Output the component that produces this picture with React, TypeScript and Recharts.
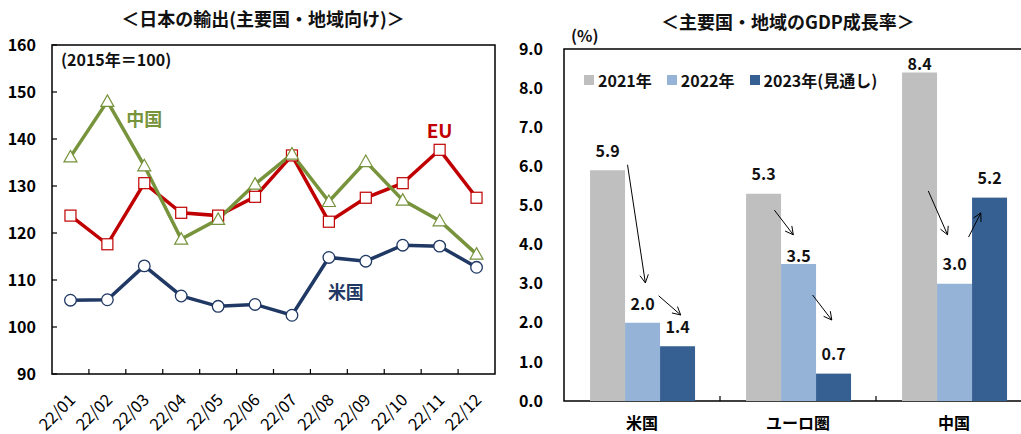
import React from "react";
import {
  Bar,
  BarChart,
  ComposedChart,
  LabelList,
  Legend,
  Line,
  ReferenceArea,
  XAxis,
  YAxis,
} from "recharts";

// Left panel: Japan's exports by destination (2015 = 100)
const months = ["22/01", "22/02", "22/03", "22/04", "22/05", "22/06", "22/07", "22/08", "22/09", "22/10", "22/11", "22/12"];
const euExports = [123.7, 117.6, 130.6, 124.3, 123.7, 127.7, 136.5, 122.4, 127.5, 130.6, 137.7, 127.5];
const chinaExports = [136.2, 148.0, 134.3, 118.7, 122.9, 130.4, 136.8, 126.7, 135.2, 127.0, 122.6, 115.5];
const usExports = [105.7, 105.8, 113.0, 106.6, 104.4, 104.8, 102.5, 114.8, 114.0, 117.4, 117.2, 112.7];
const exportTicks = [90, 100, 110, 120, 130, 140, 150, 160];

// Right panel: GDP growth of major economies
const regions = ["米国", "ユーロ圏", "中国"];
const gdp2021 = [5.9, 5.3, 8.4];
const gdp2022 = [2.0, 3.5, 3.0];
const gdp2023 = [1.4, 0.7, 5.2];
const growthTicks = [0, 1, 2, 3, 4, 5, 6, 7, 8, 9];

const FONT = '"Noto Sans CJK JP", "Noto Sans", sans-serif';
const EU = "#C00000";
const CN = "#77933C";
const US = "#1F3864";

const gdpSeries = [
  { key: "y2021", name: "2021年", color: "#BFBFBF" },
  { key: "y2022", name: "2022年", color: "#95B3D7" },
  { key: "y2023", name: "2023年(見通し)", color: "#376092" },
];

// arrows drawn between bars; x in bar widths from the 2021 bar's left edge, v in %
const arrowNotes = [
  { region: "米国", x1: 1.07, v1: 6.04, x2: 1.58, v2: 3.02 },
  { region: "米国", x1: 1.96, v1: 2.69, x2: 2.59, v2: 2.2 },
  { region: "ユーロ圏", x1: 0.81, v1: 4.88, x2: 1.35, v2: 4.25 },
  { region: "ユーロ圏", x1: 1.9, v1: 2.71, x2: 2.45, v2: 2.07 },
  { region: "中国", x1: 0.75, v1: 5.37, x2: 1.3, v2: 4.25 },
  { region: "中国", x1: 1.9, v1: 4.19, x2: 2.25, v2: 4.81 },
];

// how far above the bar top each value label sits
const labelLift: Record<string, number[]> = {
  y2021: [20, 21, 9],
  y2022: [20, 9, 21],
  y2023: [20, 21, 21],
};

const L_W = 510;
const L_H = 434;
const L_MARGIN = { top: 45, right: 15, bottom: 0, left: 0 };
const L_YAXIS = 52;
const L_BAND = (L_W - L_YAXIS - L_MARGIN.right - L_MARGIN.left) / months.length;

const R_W = 527;
const R_H = 434;
const R_MARGIN = { top: 49, right: 5, bottom: 0, left: 0 };
const R_YAXIS = 54;
const R_BAND = (R_W - R_YAXIS - R_MARGIN.right) / regions.length;

const exportRows = months.map((m, i) => ({
  m,
  eu: euExports[i],
  cn: chinaExports[i],
  us: usExports[i],
}));

const gdpRows = regions.map((r, i) => ({
  region: r,
  y2021: gdp2021[i],
  y2022: gdp2022[i],
  y2023: gdp2023[i],
}));

function SquareDot(p: any) {
  const { cx, cy, index } = p;
  if (cx == null || cy == null) return <g key={index} />;
  return <rect key={index} x={cx - 5.5} y={cy - 5.5} width={11} height={11} fill="#fff" stroke={EU} strokeWidth={1.2} />;
}

function TriangleDot(p: any) {
  const { cx, cy, index } = p;
  if (cx == null || cy == null) return <g key={index} />;
  const pts = `${cx},${cy - 6.5} ${cx + 6.5},${cy + 5} ${cx - 6.5},${cy + 5}`;
  return <polygon key={index} points={pts} fill="#fff" stroke={CN} strokeWidth={1.2} />;
}

function CircleDot(p: any) {
  const { cx, cy, index } = p;
  if (cx == null || cy == null) return <g key={index} />;
  return <circle key={index} cx={cx} cy={cy} r={5.8} fill="#fff" stroke={US} strokeWidth={1.3} />;
}

// series name written next to one point of each line
function seriesTag(text: string, at: number, dx: number, dy: number, color: string, size: number) {
  return (p: any) => {
    if (p.index !== at) return <g key={p.index} />;
    return (
      <text
        key={p.index}
        x={p.x + dx}
        y={p.y + dy}
        textAnchor="middle"
        dominantBaseline="central"
        fill={color}
        fontSize={size}
        fontWeight={700}
        fontFamily={FONT}
      >
        {text}
      </text>
    );
  };
}

function MonthTick(p: any) {
  const { x, y, payload, index } = p;
  return (
    <g>
      {index < months.length - 1 && (
        <line x1={x + L_BAND / 2} x2={x + L_BAND / 2} y1={y} y2={y - 5} stroke="#000" strokeWidth={1.2} />
      )}
      <text
        transform={`translate(${x + 6},${y + 27}) rotate(-45)`}
        textAnchor="end"
        fontSize={16.5}
        fill="#000"
        fontFamily={FONT}
      >
        {payload.value}
      </text>
    </g>
  );
}

function RegionTick(p: any) {
  const { x, y, payload, index } = p;
  return (
    <g>
      {index < regions.length - 1 && (
        <line x1={x + R_BAND / 2} x2={x + R_BAND / 2} y1={y} y2={y - 5} stroke="#000" strokeWidth={1.2} />
      )}
      <text
        x={x}
        y={y + 21}
        textAnchor="middle"
        dominantBaseline="central"
        fontSize={16}
        fontWeight={700}
        fill="#000"
        fontFamily={FONT}
      >
        {payload.value}
      </text>
    </g>
  );
}

function valueLabel(key: string) {
  return (p: any) => {
    const vb = p.viewBox && p.viewBox.width != null ? p.viewBox : p;
    const { x, y, width } = vb;
    const lift = labelLift[key][p.index] ?? 20;
    return (
      <text
        key={p.index}
        x={x + width / 2}
        y={y - lift}
        textAnchor="middle"
        dominantBaseline="central"
        fontSize={16}
        fontWeight={700}
        fill="#111"
        fontFamily={FONT}
      >
        {Number(p.value).toFixed(1)}
      </text>
    );
  };
}

function arrowPath(x1: number, y1: number, x2: number, y2: number) {
  const t = Math.atan2(y2 - y1, x2 - x1);
  const a = (28 * Math.PI) / 180;
  const len = 9;
  const ax = x2 - len * Math.cos(t - a);
  const ay = y2 - len * Math.sin(t - a);
  const bx = x2 - len * Math.cos(t + a);
  const by = y2 - len * Math.sin(t + a);
  return `M${x1},${y1} L${x2},${y2} M${ax},${ay} L${x2},${y2} L${bx},${by}`;
}

// 2023 bar plus the trend arrows of its region group
function OutlookBar(p: any) {
  const { x, y, width, height, fill, payload } = p;
  const v = payload.y2023;
  const ppu = height / v;
  const base = y + height;
  const left0 = x - 2 * width;
  const notes = arrowNotes.filter((a) => a.region === payload.region);
  return (
    <g>
      <rect x={x} y={y} width={width} height={height} fill={fill} />
      {notes.map((a, i) => (
        <path
          key={i}
          d={arrowPath(left0 + a.x1 * width, base - a.v1 * ppu, left0 + a.x2 * width, base - a.v2 * ppu)}
          fill="none"
          stroke="#000"
          strokeWidth={1}
        />
      ))}
    </g>
  );
}

function GdpLegend() {
  return (
    <div style={{ display: "flex", alignItems: "center", fontFamily: FONT, fontSize: 16, fontWeight: 700, color: "#111", whiteSpace: "nowrap" }}>
      {gdpSeries.map((s, i) => (
        <div key={s.key} style={{ display: "flex", alignItems: "center", marginRight: i < gdpSeries.length - 1 ? 15 : 0 }}>
          <span style={{ display: "inline-block", width: 10, height: 10, background: s.color, marginRight: 4 }} />
          <span>{s.name}</span>
        </div>
      ))}
    </div>
  );
}

export default function App() {
  const yTick = { fill: "#000", fontSize: 16, fontWeight: 700, fontFamily: FONT };
  return (
    <div
      style={{
        position: "absolute",
        left: 0,
        top: 0,
        width: 1021,
        height: 434,
        overflow: "hidden",
        background: "#fff",
        fontFamily: FONT,
      }}
    >
      {/* left panel */}
      <div style={{ position: "absolute", left: 0, top: 0, width: L_W, height: L_H }}>
        <ComposedChart width={L_W} height={L_H} data={exportRows} margin={L_MARGIN}>
          <XAxis
            dataKey="m"
            scale="band"
            interval={0}
            height={60}
            axisLine={false}
            tickLine={false}
            tickSize={0}
            tickMargin={0}
            tick={<MonthTick />}
          />
          <YAxis
            domain={[90, 160]}
            ticks={exportTicks}
            width={L_YAXIS}
            axisLine={false}
            tickSize={-5}
            tickMargin={21}
            tickLine={{ stroke: "#000", strokeWidth: 1.2 }}
            tick={yTick}
          />
          <ReferenceArea y1={90} y2={160} fill="none" stroke="#000" strokeWidth={1.5} ifOverflow="visible" />
          <Line
            dataKey="us"
            stroke={US}
            strokeWidth={3.5}
            dot={CircleDot}
            label={seriesTag("米国", 7, 17, 34, US, 18)}
            isAnimationActive={false}
          />
          <Line
            dataKey="eu"
            stroke={EU}
            strokeWidth={3.5}
            dot={SquareDot}
            label={seriesTag("EU", 10, 0, -20, EU, 19)}
            isAnimationActive={false}
          />
          <Line
            dataKey="cn"
            stroke={CN}
            strokeWidth={3.5}
            dot={TriangleDot}
            label={seriesTag("中国", 2, 0, -48, CN, 18)}
            isAnimationActive={false}
          />
        </ComposedChart>
        <div style={{ position: "absolute", left: 63, width: 400, top: 8, textAlign: "center", fontSize: 18, lineHeight: "20px", fontWeight: 700, color: "#111" }}>
          ＜日本の輸出(主要国・地域向け)＞
        </div>
        <div style={{ position: "absolute", left: 61, top: 48, fontSize: 16, lineHeight: "22px", fontWeight: 700, color: "#111" }}>
          (2015年＝100)
        </div>
      </div>

      {/* right panel */}
      <div style={{ position: "absolute", left: 510, top: 0, width: R_W, height: R_H }}>
        <BarChart width={R_W} height={R_H} data={gdpRows} margin={R_MARGIN} barCategoryGap="16.7%" barGap={0}>
          <XAxis
            dataKey="region"
            interval={0}
            height={33}
            axisLine={false}
            tickLine={false}
            tickSize={0}
            tickMargin={0}
            tick={<RegionTick />}
          />
          <YAxis
            domain={[0, 9]}
            ticks={growthTicks}
            width={R_YAXIS}
            axisLine={false}
            tickLine={false}
            tickSize={0}
            tickMargin={21}
            tick={yTick}
            tickFormatter={(v: number) => v.toFixed(1)}
          />
          <ReferenceArea y1={0} y2={9} fill="none" stroke="#000" strokeWidth={1.5} ifOverflow="visible" />
          <Legend
            layout="horizontal"
            verticalAlign="middle"
            align="center"
            wrapperStyle={{ left: 74, top: 68, width: "auto" }}
            content={<GdpLegend />}
          />
          <Bar dataKey="y2021" name="2021年" fill={gdpSeries[0].color} isAnimationActive={false}>
            <LabelList dataKey="y2021" content={valueLabel("y2021")} />
          </Bar>
          <Bar dataKey="y2022" name="2022年" fill={gdpSeries[1].color} isAnimationActive={false}>
            <LabelList dataKey="y2022" content={valueLabel("y2022")} />
          </Bar>
          <Bar dataKey="y2023" name="2023年(見通し)" fill={gdpSeries[2].color} shape={OutlookBar} isAnimationActive={false}>
            <LabelList dataKey="y2023" content={valueLabel("y2023")} />
          </Bar>
        </BarChart>
        <div style={{ position: "absolute", left: 78, width: 400, top: 11, textAlign: "center", fontSize: 18, lineHeight: "20px", fontWeight: 700, color: "#111" }}>
          ＜主要国・地域のGDP成長率＞
        </div>
        <div style={{ position: "absolute", left: 61, top: 24, fontSize: 16, lineHeight: "22px", fontWeight: 700, color: "#111" }}>
          (%)
        </div>
      </div>
    </div>
  );
}
